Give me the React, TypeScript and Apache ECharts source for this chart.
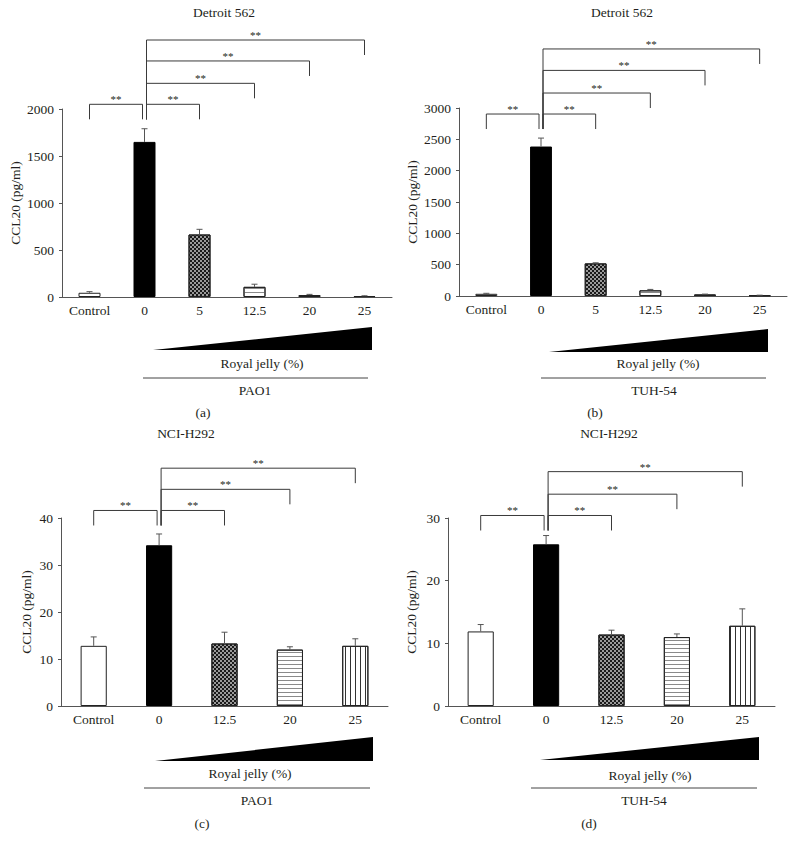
import React, { useEffect, useRef } from 'react';
import * as echarts from 'echarts';

// ---------- data ----------
const catsDetroit = ['Control', '0', '5', '12.5', '20', '25'];
const catsNci = ['Control', '0', '12.5', '20', '25'];

const titles = ['Detroit 562', 'Detroit 562', 'NCI-H292', 'NCI-H292'];
const strains = ['PAO1', 'TUH-54', 'PAO1', 'TUH-54'];
const panelTags = ['(a)', '(b)', '(c)', '(d)'];
const yAxisTitle = 'CCL20 (pg/ml)';
const doseLabel = 'Royal jelly (%)';

const meanA = [45, 1650, 665, 108, 20, 10];
const sdA = [12, 140, 55, 28, 8, 3];
const meanB = [35, 2385, 520, 90, 25, 10];
const sdB = [8, 135, 10, 15, 5, 3];
const meanC = [12.8, 34.2, 13.3, 12.0, 12.8];
const sdC = [1.9, 2.4, 2.4, 0.6, 1.5];
const meanD = [11.9, 25.8, 11.4, 11.0, 12.8];
const sdD = [1.1, 1.4, 0.7, 0.5, 2.7];

// significance brackets: [fromIndex, toIndex, level (axis units)]
const bracketsA = [[0, 1, 2050], [1, 2, 2050], [1, 3, 2273], [1, 4, 2511], [1, 5, 2734]];
const bracketsB = [[0, 1, 2904], [1, 2, 2904], [1, 3, 3239], [1, 4, 3600], [1, 5, 3942]];
const bracketsC = [[0, 1, 41.6], [1, 2, 41.6], [1, 3, 46.1], [1, 4, 50.6]];
const bracketsD = [[0, 1, 30.4], [1, 2, 30.4], [1, 3, 33.8], [1, 4, 37.4]];
const sigMark = '**';

// ---------- styles / layout ----------
const FONT = '"Liberation Serif", "DejaVu Serif", serif';
const TXT = '#231f20';
const AXIS = '#555';

const decalChecker = {
  symbol: 'rect',
  symbolSize: 1,
  dashArrayX: [[2, 2], [0, 2, 2, 0]],
  dashArrayY: [2, 0],
  color: '#1a1a1a',
};
const decalH = { symbol: 'rect', symbolSize: 1, dashArrayX: [1, 0], dashArrayY: [1, 3], color: '#8a8a8a' };
const decalV = { symbol: 'rect', symbolSize: 1, dashArrayX: [1, 4], dashArrayY: [1, 0], color: '#333' };

const kindsDetroit = ['open', 'solid', 'checker', 'hstripe', 'checker', 'vstripe'];
const kindsNci = ['open', 'solid', 'checker', 'hstripe', 'vstripe'];

function styleFor(kind: string) {
  const base: any = { borderColor: '#222', borderWidth: 1 };
  if (kind === 'solid') return { ...base, color: '#000', borderColor: '#000' };
  if (kind === 'open') return { ...base, color: '#fff' };
  if (kind === 'checker') return { ...base, color: '#9a9a9a', decal: decalChecker };
  if (kind === 'hstripe') return { ...base, color: '#fff', decal: decalH };
  return { ...base, color: '#fff', decal: decalV };
}

const panels = [
  { grid: { left: 62, top: 109, width: 330, height: 188 }, max: 2000, interval: 500, nameGap: 40,
    cats: catsDetroit, mean: meanA, sd: sdA, brackets: bracketsA, kinds: kindsDetroit,
    titlePos: [224, 13],
    wedge: [[153, 350], [372, 350], [372, 327]], rj: [262, 363], rule: [143, 368, 378], strain: [255, 390], tag: [203, 412] },
  { grid: { left: 459, top: 108, width: 328, height: 188 }, max: 3000, interval: 500, nameGap: 40,
    cats: catsDetroit, mean: meanB, sd: sdB, brackets: bracketsB, kinds: kindsDetroit,
    titlePos: [622, 13],
    wedge: [[549, 352], [768, 352], [768, 329]], rj: [658, 363], rule: [541, 766, 378], strain: [654, 390], tag: [595, 412] },
  { grid: { left: 61, top: 518, width: 327, height: 188 }, max: 40, interval: 10, nameGap: 28,
    cats: catsNci, mean: meanC, sd: sdC, brackets: bracketsC, kinds: kindsNci,
    titlePos: [186, 434],
    wedge: [[155, 761], [373, 761], [373, 737]], rj: [250, 773], rule: [144, 370, 788], strain: [257, 800], tag: [202, 823] },
  { grid: { left: 448, top: 518, width: 327, height: 188 }, max: 30, interval: 10, nameGap: 30,
    cats: catsNci, mean: meanD, sd: sdD, brackets: bracketsD, kinds: kindsNci,
    titlePos: [609, 434],
    wedge: [[540, 760], [759, 760], [759, 737]], rj: [650, 775], rule: [531, 757, 788], strain: [644, 800], tag: [589, 823] },
];

function errRender(params: any, api: any) {
  const x = api.value(0);
  const m = api.value(1);
  const s = api.value(2);
  const p0 = api.coord([x, m]);
  const p1 = api.coord([x, m + s]);
  const st = { stroke: '#555', lineWidth: 1 };
  return {
    type: 'group',
    children: [
      { type: 'line', shape: { x1: p0[0], y1: p0[1], x2: p1[0], y2: p1[1] }, style: st },
      { type: 'line', shape: { x1: p1[0] - 3, y1: p1[1], x2: p1[0] + 3, y2: p1[1] }, style: st },
    ],
  };
}

function makeBracketRender(lowest: number) {
  return (params: any, api: any) => {
    const from = api.value(0);
    const to = api.value(1);
    const level = api.value(2);
    const pL = api.coord([from, level]);
    const pR = api.coord([to, level]);
    const y = pL[1];
    const lowY = api.coord([1, lowest])[1] + 15;
    const xL = pL[0] + (from === 1 ? 2 : 0);
    const xR = pR[0] - (to === 1 ? 2 : 0);
    const yL = from === 1 ? lowY : y + 15;
    return {
      type: 'group',
      children: [
        {
          type: 'polyline',
          shape: { points: [[xL, yL], [xL, y], [xR, y], [xR, y + 15]] },
          style: { stroke: '#3a3a3a', fill: 'none', lineWidth: 1 },
        },
        {
          type: 'text',
          style: {
            text: sigMark, x: (xL + xR) / 2, y: y - 5, align: 'center', verticalAlign: 'middle',
            fontSize: 11, fontFamily: FONT, fill: TXT,
          },
        },
      ],
    };
  };
}

function buildOption() {
  const grid: any[] = [];
  const xAxis: any[] = [];
  const yAxis: any[] = [];
  const series: any[] = [];
  const title: any[] = [];
  const graphic: any[] = [];

  panels.forEach((p, i) => {
    grid.push({ ...p.grid, containLabel: false, outerBoundsMode: 'none' });
    xAxis.push({
      gridIndex: i, type: 'category', data: p.cats,
      axisLine: { show: true, lineStyle: { color: AXIS, width: 1 } },
      axisTick: { show: false },
      axisLabel: { color: TXT, fontSize: 13.5, fontFamily: FONT, margin: 6, interval: 0 },
      splitLine: { show: false },
    });
    yAxis.push({
      gridIndex: i, type: 'value', min: 0, max: p.max, interval: p.interval,
      axisLine: { show: true, lineStyle: { color: AXIS, width: 1 } },
      axisTick: { show: true, length: 3, lineStyle: { color: AXIS } },
      axisLabel: { color: TXT, fontSize: 13.5, fontFamily: FONT, margin: 8, formatter: (v: number) => String(v) },
      splitLine: { show: false },
      name: yAxisTitle, nameLocation: 'middle', nameGap: p.nameGap, nameRotate: 90,
      nameTextStyle: { color: TXT, fontSize: 13.5, fontFamily: FONT },
    });
    series.push({
      type: 'bar', xAxisIndex: i, yAxisIndex: i, barWidth: '40%', silent: true,
      data: p.mean.map((v, k) => ({ value: v, itemStyle: styleFor(p.kinds[k]) })),
    });
    series.push({
      type: 'custom', xAxisIndex: i, yAxisIndex: i, silent: true, z: 3,
      encode: { x: 0, y: 1 },
      data: p.mean.map((v, k) => [k, v, p.sd[k]]),
      renderItem: errRender,
    });
    const lowest = Math.min(...p.brackets.map((b) => b[2]));
    series.push({
      type: 'custom', xAxisIndex: i, yAxisIndex: i, silent: true, z: 3, clip: false,
      encode: { x: [0, 1], y: 2 },
      data: p.brackets,
      renderItem: makeBracketRender(lowest),
    });
    title.push({
      text: titles[i], left: p.titlePos[0], top: p.titlePos[1] - 8, textAlign: 'center', padding: 0,
      textStyle: { color: TXT, fontSize: 13.5, fontWeight: 'normal', fontFamily: FONT },
    });
    graphic.push({ type: 'polygon', shape: { points: p.wedge }, style: { fill: '#000' }, silent: true });
    graphic.push({
      type: 'text', x: p.rj[0], y: p.rj[1], silent: true,
      style: { text: doseLabel, align: 'center', verticalAlign: 'middle', fontSize: 13.5, fontFamily: FONT, fill: TXT },
    });
    graphic.push({
      type: 'line', silent: true, shape: { x1: p.rule[0], y1: p.rule[2], x2: p.rule[1], y2: p.rule[2] },
      style: { stroke: '#444', lineWidth: 1 },
    });
    graphic.push({
      type: 'text', x: p.strain[0], y: p.strain[1], silent: true,
      style: { text: strains[i], align: 'center', verticalAlign: 'middle', fontSize: 13.5, fontFamily: FONT, fill: TXT },
    });
    graphic.push({
      type: 'text', x: p.tag[0], y: p.tag[1], silent: true,
      style: { text: panelTags[i], align: 'center', verticalAlign: 'middle', fontSize: 13.5, fontFamily: FONT, fill: TXT },
    });
  });

  return {
    animation: false,
    backgroundColor: '#fff',
    textStyle: { fontFamily: FONT },
    title, grid, xAxis, yAxis, series, graphic,
  };
}

export default function App() {
  const ref = useRef<HTMLDivElement>(null);
  useEffect(() => {
    if (!ref.current) return;
    const chart = echarts.init(ref.current, undefined, { renderer: 'svg' });
    chart.setOption(buildOption() as any);
    return () => chart.dispose();
  }, []);
  return (
    <div
      ref={ref}
      style={{ position: 'absolute', left: 0, top: 0, width: 796, height: 849, background: '#fff' }}
    />
  );
}
